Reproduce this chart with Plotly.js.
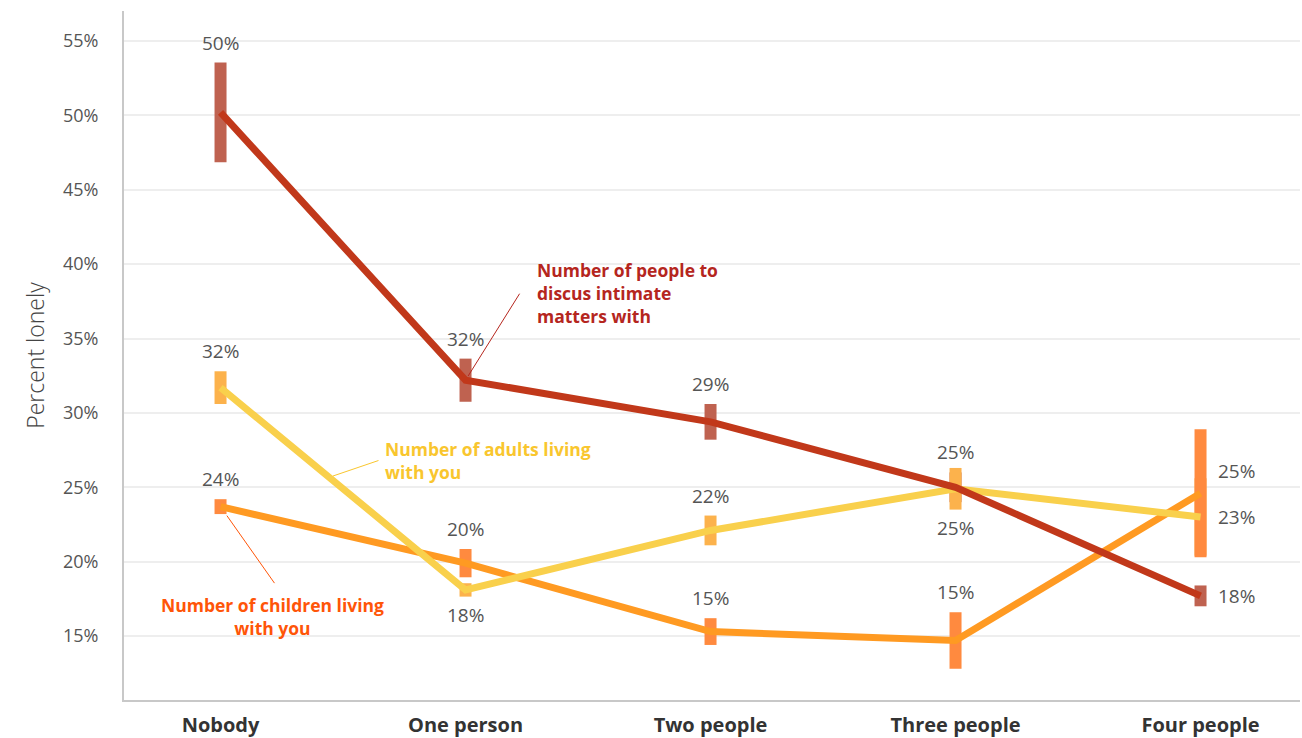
<!DOCTYPE html>
<html>
<head>
<meta charset="utf-8">
<script src="https://cdn.plot.ly/plotly-3.0.1.min.js"></script>
<style>html,body{margin:0;padding:0;background:#fff;}#chart{width:1302px;height:738px;}</style>
</head>
<body>
<div id="chart"></div>
<script>
// ---- data ----
const categories = ['Nobody', 'One person', 'Two people', 'Three people', 'Four people'];

const intimate = [50.2, 32.2, 29.4, 25.0, 17.7];
const intimateErr = [3.35, 1.45, 1.2, 1.0, 0.7];
const intimatePos = ['above', 'above', 'above', 'above', 'right'];

const adults = [31.7, 18.1, 22.1, 24.9, 23.0];
const adultsErr = [1.1, 0.45, 1.0, 1.4, 2.6];
const adultsPos = ['above', 'below', 'above', 'below', 'right'];

const children = [23.7, 19.9, 15.3, 14.7, 24.6];
const childrenErr = [0.5, 0.95, 0.9, 1.9, 4.3];
const childrenPos = ['above', 'above', 'above', 'above', 'right'];

const yTicks = [15, 20, 25, 30, 35, 40, 45, 50, 55];

// ---- styles ----
const FONT = '"Open Sans", Lato, sans-serif';
const series = [
  {name: 'Number of people to discus intimate matters with', y: intimate, err: intimateErr, pos: intimatePos,
   line: '#C1381A', errColor: '#BF6250', rightShift: 0},
  {name: 'Number of adults living with you', y: adults, err: adultsErr, pos: adultsPos,
   line: '#F9D04C', errColor: '#FCB24C', rightShift: 0},
  {name: 'Number of children living with you', y: children, err: childrenErr, pos: childrenPos,
   line: '#FF9A22', errColor: '#FF8A3F', rightShift: 22}
];

const traces = [];
// error bars first (underneath)
series.forEach(s => {
  traces.push({
    type: 'scatter', mode: 'markers', x: categories, y: s.y,
    marker: {size: 1, opacity: 0},
    error_y: {type: 'data', array: s.err, visible: true, color: s.errColor, thickness: 12, width: 0},
    hoverinfo: 'skip', showlegend: false
  });
});
// lines on top
[2, 1, 0].forEach(i => {
  const s = series[i];
  traces.push({
    type: 'scatter', mode: 'lines', x: categories, y: s.y, name: s.name,
    line: {color: s.line, width: 7}, hoverinfo: 'skip', showlegend: false
  });
});

const annotations = [];
series.forEach(s => {
  s.y.forEach((v, i) => {
    const a = {
      x: categories[i], xref: 'x', yref: 'y', showarrow: false,
      text: Math.round(v) + '%',
      font: {family: FONT, size: 19, color: '#555555'}
    };
    if (s.pos[i] === 'above') {
      a.y = v + s.err[i]; a.yanchor = 'middle'; a.xanchor = 'center'; a.yshift = 20;
    } else if (s.pos[i] === 'below') {
      a.y = v - s.err[i]; a.yanchor = 'middle'; a.xanchor = 'center'; a.yshift = -18;
    } else {
      a.y = v; a.yanchor = 'middle'; a.xanchor = 'left'; a.xshift = 15; a.yshift = s.rightShift;
    }
    annotations.push(a);
  });
});

// callout texts
annotations.push({
  xref: 'paper', yref: 'paper', x: 0.3495, y: 0.5907, xanchor: 'left', yanchor: 'middle', align: 'left',
  showarrow: false, text: 'Number of people to<br>discus intimate<br>matters with',
  font: {family: FONT, size: 17.5, color: '#B5261E', weight: 'bold'}
});
annotations.push({
  xref: 'paper', yref: 'paper', x: 0.2202, y: 0.3469, xanchor: 'left', yanchor: 'middle', align: 'left',
  showarrow: false, text: 'Number of adults living<br>with you',
  font: {family: FONT, size: 17.5, color: '#F9C62E', weight: 'bold'}
});
annotations.push({
  xref: 'paper', yref: 'paper', x: 0.1267, y: 0.1212, xanchor: 'center', yanchor: 'middle', align: 'center',
  showarrow: false, text: 'Number of children living<br>with you',
  font: {family: FONT, size: 17.5, color: '#FF5508', weight: 'bold'}
});
// callout lines
annotations.push({
  x: categories[1], y: intimate[1], xref: 'x', yref: 'y', text: '', showarrow: true,
  arrowhead: 0, arrowwidth: 1, arrowcolor: '#B5261E', ax: 55, ay: -88, standoff: 5
});
annotations.push({
  x: 0.1777, y: 0.3251, xref: 'paper', yref: 'paper', text: '', showarrow: true,
  arrowhead: 0, arrowwidth: 1, arrowcolor: '#F9C62E', ax: 47, ay: -16, standoff: 0
});
annotations.push({
  x: categories[0], y: children[0], xref: 'x', yref: 'y', text: '', showarrow: true,
  arrowhead: 0, arrowwidth: 1, arrowcolor: '#FF5508', ax: 55, ay: 78, standoff: 11
});

const layout = {
  width: 1302, height: 738,
  margin: {l: 124, r: 2, t: 11, b: 38},
  paper_bgcolor: '#ffffff', plot_bgcolor: '#ffffff',
  showlegend: false, hovermode: false,
  font: {family: FONT, color: '#555555'},
  xaxis: {
    type: 'category', range: [-0.394, 4.406],
    showgrid: false, zeroline: false,
    showline: true, linecolor: '#c8c8c8', linewidth: 2,
    ticks: '', ticklabelstandoff: 6,
    tickfont: {family: FONT, size: 20, color: '#333333', weight: 'bold'}
  },
  yaxis: {
    range: [10.70, 57.02],
    tickvals: yTicks, ticktext: yTicks.map(v => v + '%'),
    showgrid: true, gridcolor: '#eeeeee', gridwidth: 2,
    zeroline: false, showline: true, linecolor: '#c8c8c8', linewidth: 2,
    ticks: '', ticklabelstandoff: 20,
    tickfont: {family: FONT, size: 18, color: '#555555'},
    title: {text: 'Percent lonely', standoff: 12, font: {family: FONT, size: 23, color: '#444444', weight: 300}}
  },
  annotations: annotations
};

Plotly.newPlot('chart', traces, layout, {staticPlot: true, displayModeBar: false});
</script>
</body>
</html>
